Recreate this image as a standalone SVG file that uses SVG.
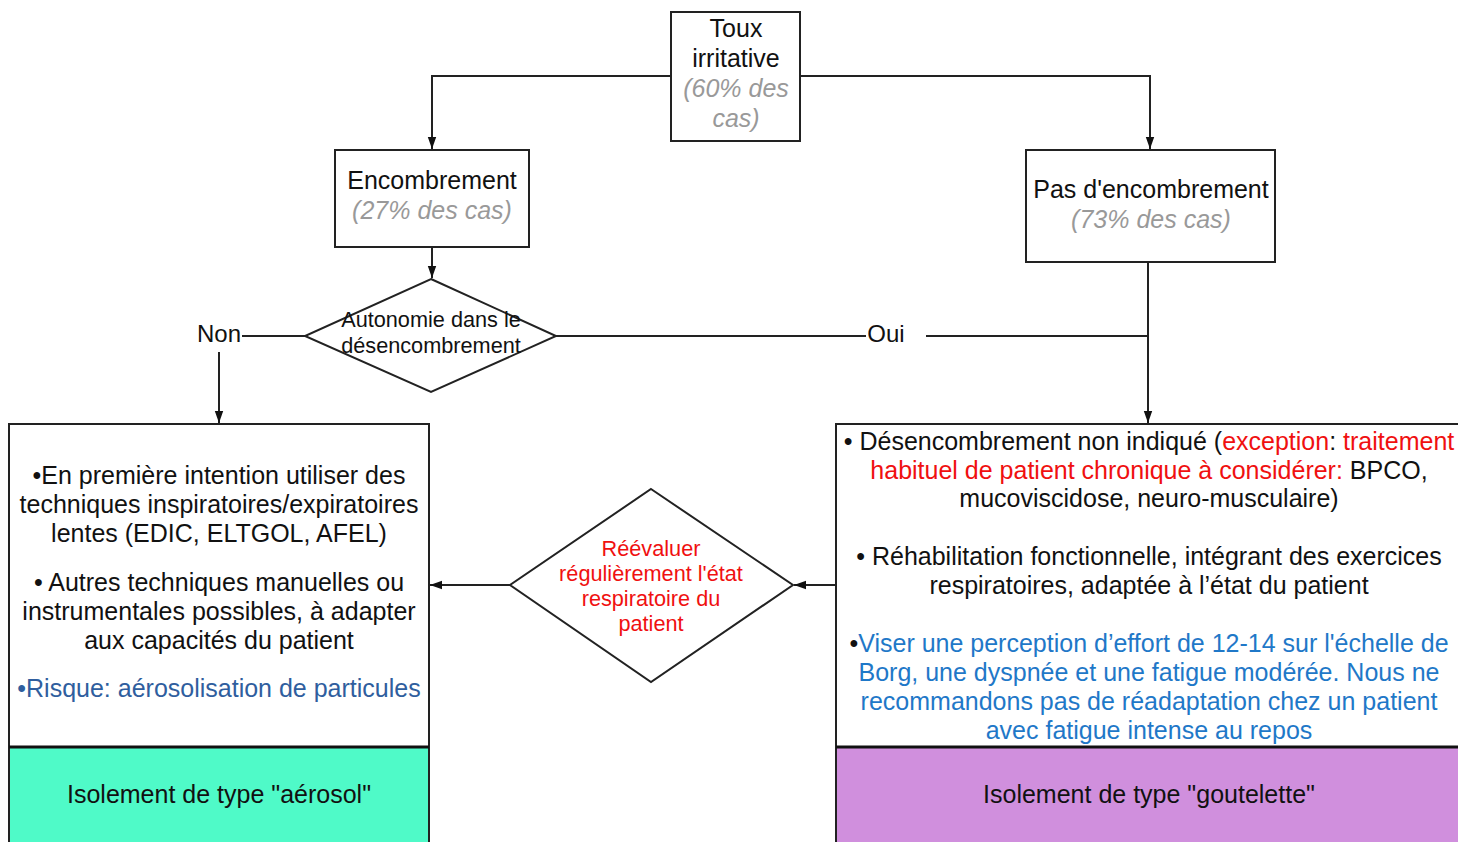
<svg xmlns="http://www.w3.org/2000/svg" width="1458" height="842" viewBox="0 0 1458 842">
<style>
text{font-family:"Liberation Sans",Arial,sans-serif;fill:#111;text-anchor:middle}
.box{fill:#fff;stroke:#222;stroke-width:2}
.ln{fill:none;stroke:#222;stroke-width:2}
.g{fill:#999;font-style:italic}
.r{fill:#f01010}
.b{fill:#1f78c8}
.db{fill:#2f5e9e}
.t22{font-size:25px}
.t24{font-size:24px}
.t19{font-size:21.7px}
</style>
<defs>
<marker id="ah2" viewBox="0 0 10 10" refX="10" refY="5" markerWidth="12" markerHeight="12" orient="auto" markerUnits="userSpaceOnUse"><path d="M0,1.5L10,5L0,8.5z" fill="#111"/></marker>
</defs>
<rect width="1458" height="842" fill="#fff"/>
<g id="connectors">
<path class="ln" d="M671,76H432V149" marker-end="url(#ah2)"/>
<path class="ln" d="M800,76H1150V149" marker-end="url(#ah2)"/>
<path class="ln" d="M432,247V278" marker-end="url(#ah2)"/>
<path class="ln" d="M305,336H242"/>
<path class="ln" d="M219,352V423" marker-end="url(#ah2)"/>
<path class="ln" d="M556,336H866"/>
<path class="ln" d="M926,336H1149"/>
<path class="ln" d="M1148,262V423" marker-end="url(#ah2)"/>
<path class="ln" d="M836,585H794" marker-end="url(#ah2)"/>
<path class="ln" d="M510,585H430" marker-end="url(#ah2)"/>
<text class="t24" x="219" y="342">Non</text>
<text class="t24" x="886" y="342">Oui</text>
</g>
<g id="toux">
<rect class="box" x="671" y="12" width="129" height="129"/>
<text class="t22" x="736" y="37">Toux</text>
<text class="t22" x="736" y="67">irritative</text>
<text class="t22 g" x="736" y="97">(60% des</text>
<text class="t22 g" x="736" y="127">cas)</text>
</g>
<g id="encombrement">
<rect class="box" x="335" y="150" width="194" height="97"/>
<text class="t22" x="432" y="189">Encombrement</text>
<text class="t22 g" x="432" y="219">(27% des cas)</text>
</g>
<g id="pas-encombrement">
<rect class="box" x="1026" y="150" width="249" height="112"/>
<text class="t22" x="1151" y="198">Pas d'encombrement</text>
<text class="t22 g" x="1151" y="228">(73% des cas)</text>
</g>
<g id="autonomie">
<path class="box" d="M431,279L556,336L431,392L305,336Z"/>
<text class="t19" x="431" y="327">Autonomie dans le</text>
<text class="t19" x="431" y="353">désencombrement</text>
</g>
<g id="reevaluer">
<path class="box" d="M651,489L793,585L651,682L510,585Z"/>
<text class="t19 r" x="651" y="556">Réévaluer</text>
<text class="t19 r" x="651" y="581">régulièrement l'état</text>
<text class="t19 r" x="651" y="606">respiratoire du</text>
<text class="t19 r" x="651" y="631">patient</text>
</g>
<g id="gauche">
<rect class="box" x="9" y="424" width="420" height="323"/>
<text class="t22" x="219" y="484">•En première intention utiliser des</text>
<text class="t22" x="219" y="513">techniques inspiratoires/expiratoires</text>
<text class="t22" x="219" y="542">lentes (EDIC, ELTGOL, AFEL)</text>
<text class="t22" x="219" y="591">• Autres techniques manuelles ou</text>
<text class="t22" x="219" y="620">instrumentales possibles, à adapter</text>
<text class="t22" x="219" y="649">aux capacités du patient</text>
<text class="t22" x="219" y="697"><tspan class="db">•Risque: aérosolisation de particules</tspan></text>
</g>
<g id="aerosol">
<rect x="9" y="747" width="420" height="100" fill="#4ffac8" stroke="#222" stroke-width="2"/>
<line x1="9" y1="747" x2="429" y2="747" stroke="#111" stroke-width="3"/>
<text class="t22" x="219" y="803">Isolement de type "aérosol"</text>
</g>
<g id="droite">
<rect class="box" x="836" y="424" width="625" height="323"/>
<text class="t22" x="1149" y="450">• Désencombrement non indiqué (<tspan class="r">exception</tspan>: <tspan class="r">traitement</tspan></text>
<text class="t22" x="1149" y="479"><tspan class="r">habituel de patient chronique à considérer:</tspan> BPCO,</text>
<text class="t22" x="1149" y="507">mucoviscidose, neuro-musculaire)</text>
<text class="t22" x="1149" y="565">• Réhabilitation fonctionnelle, intégrant des exercices</text>
<text class="t22" x="1149" y="594">respiratoires, adaptée à l’état du patient</text>
<text class="t22" x="1149" y="652">•<tspan class="b">Viser une perception d’effort de 12-14 sur l'échelle de</tspan></text>
<text class="t22 b" x="1149" y="681">Borg, une dyspnée et une fatigue modérée. Nous ne</text>
<text class="t22 b" x="1149" y="710">recommandons pas de réadaptation chez un patient</text>
<text class="t22 b" x="1149" y="739">avec fatigue intense au repos</text>
</g>
<g id="goutelette">
<rect x="836" y="747" width="625" height="100" fill="#d08fdd" stroke="#222" stroke-width="2"/>
<line x1="836" y1="747" x2="1458" y2="747" stroke="#111" stroke-width="3"/>
<text class="t22" x="1149" y="803">Isolement de type "goutelette"</text>
</g>
</svg>
